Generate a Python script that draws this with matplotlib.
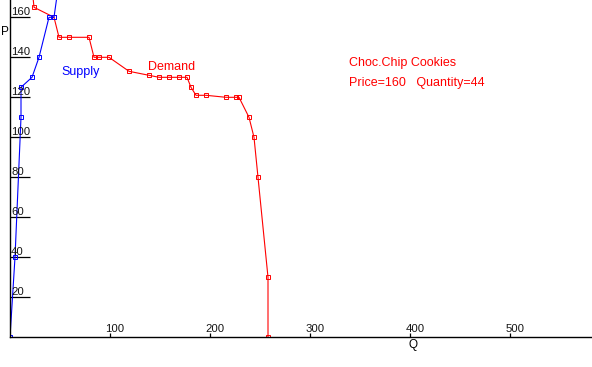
from matplotlib import pyplot as plt
import numpy as np

plt.rcParams['font.family'] = ['Liberation Sans', 'DejaVu Sans']

# demand schedule (quantity, price)
demand_q = [21, 24, 44, 49, 59, 79, 84, 89, 99, 119, 139, 149, 159, 169, 177, 181, 186, 196, 216, 226, 229, 239, 244, 248, 258, 258]
demand_p = [180, 165, 160, 150, 150, 150, 140, 140, 140, 133, 131, 130, 130, 130, 130, 125, 121, 121, 120, 120, 120, 110, 100, 80, 30, 0]

# supply schedule (quantity, price)
supply_q = [0, 5, 11, 11, 22, 29, 39, 44, 51]
supply_p = [0, 40, 110, 125, 130, 140, 160, 160, 185]

y_ticks = [20, 40, 60, 80, 100, 120, 140, 160]
x_ticks = [100, 200, 300, 400, 500]

product = 'Choc.Chip Cookies'
eq_price = 160
eq_qty = 44

fig = plt.figure(figsize=[5.92, 3.67], dpi=100)
ax = fig.add_axes([10 / 592, (367 - 337.3) / 367, 582 / 592, 337.3 / 367])
ax.set_xlim(0, 582)
ax.set_ylim(0, 337.3 / 2)

ax.plot(demand_q, demand_p, color='red', lw=0.8, marker='s', ms=2.2,
        mfc='none', mec='red', mew=0.7)
ax.plot(supply_q, supply_p, color='blue', lw=0.8, marker='s', ms=2.2,
        mfc='none', mec='blue', mew=0.7)

# axes look: only left and bottom lines, ticks pointing inside
for side in ['top', 'right']:
    ax.spines[side].set_visible(False)
ax.spines['left'].set_linewidth(1.0)
ax.spines['bottom'].set_linewidth(1.0)
ax.set_yticks(y_ticks)
ax.set_xticks(x_ticks)
ax.tick_params(axis='y', direction='in', length=14.5, width=0.9, labelleft=False)
ax.tick_params(axis='x', direction='in', length=3, width=0.9, labelbottom=False)

# tick labels sit above the tick marks, inside the plot
for v in y_ticks:
    ax.text(1, v, str(v), fontsize=8.2, ha='left', va='bottom', color='#151515')
for v in x_ticks:
    ax.text(v + 5, 1.5, str(v), fontsize=8.2, ha='center', va='bottom', color='#151515')

ax.text(51, 132.6, 'Supply', color='blue', fontsize=9, va='center')
ax.text(138, 135, 'Demand', color='red', fontsize=9, va='center')
ax.text(339, 137, product, color='red', fontsize=9, va='center')
ax.text(339, 127, 'Price=' + str(eq_price) + '   Quantity=' + str(eq_qty),
        color='red', fontsize=9, va='center')

fig.text(5 / 592, 1 - 32 / 367, 'P', fontsize=8.5, ha='center', va='center')
fig.text(413 / 592, 1 - 345 / 367, 'Q', fontsize=8.5, ha='center', va='center')

plt.savefig('out.png', dpi=100)
